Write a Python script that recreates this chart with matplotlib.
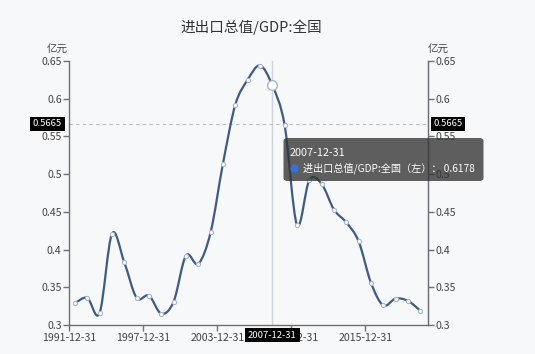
import matplotlib.pyplot as plt
import numpy as np
from matplotlib.path import Path
from matplotlib.patches import PathPatch, FancyBboxPatch
from matplotlib.lines import Line2D

plt.rcParams['font.family'] = ['Noto Sans CJK SC', 'DejaVu Sans']

# data (year-end values)
years = list(range(1991, 2020))
ratio = [0.329, 0.336, 0.316, 0.421, 0.383, 0.336, 0.339, 0.315, 0.331, 0.392,
         0.381, 0.423, 0.514, 0.592, 0.625, 0.644, 0.6178, 0.565, 0.433, 0.492,
         0.487, 0.453, 0.436, 0.411, 0.356, 0.326, 0.335, 0.332, 0.319]
tick_labels = ['1991-12-31', '1997-12-31', '2003-12-31', '2009-12-31', '2015-12-31']
title = '进出口总值/GDP:全国'
unit = '亿元'
hover_year = 2007
hover_value = 0.6178
cursor_value = 0.5665
series_name = '进出口总值/GDP:全国（左）'

bg = '#f7f8fa'
line_c = '#3f5a84'
axis_c = '#6e7079'
text_c = '#444444'

W, H = 535, 354
fig = plt.figure(figsize=(W / 100, H / 100), dpi=100, facecolor=bg)
L, R, T, B = 69.3, 428.3, 61, 325
ax = fig.add_axes([L / W, 1 - B / H, (R - L) / W, (B - T) / H])
ax.set_facecolor(bg)

x0 = years[0] - 0.46
ax.set_xlim(x0, years[-1] + 0.65)
ax.set_ylim(0.3, 0.65)

# smooth line through the points (Catmull-Rom as cubic bezier)
pts = np.column_stack([years, ratio]).astype(float)
verts = [pts[0]]
codes = [Path.MOVETO]
n = len(pts)
for i in range(n - 1):
    p0 = pts[max(i - 1, 0)]
    p1 = pts[i]
    p2 = pts[i + 1]
    p3 = pts[min(i + 2, n - 1)]
    c1 = p1 + (p2 - p0) / 6
    c2 = p2 - (p3 - p1) / 6
    verts += [c1, c2, p2]
    codes += [Path.CURVE4] * 3
ax.add_patch(PathPatch(Path(verts, codes), fill=False, edgecolor=line_c, lw=1.6, zorder=3))
ax.plot(years, ratio, 'o', ms=3.0, mfc='white', mec='#a8b6ca', mew=0.8, zorder=4)

# cursor lines
ax.axvline(hover_year, color='#cfd3da', lw=1, zorder=2)
ax.axhline(cursor_value, color='#bcbcbc', lw=0.8, ls=(0, (3, 3)), zorder=2)
ax.plot([hover_year], [hover_value], 'o', ms=7, mfc='white', mec='#a8b6ca', mew=1, zorder=5)

# axes styling
ax.spines['top'].set_visible(False)
for s in ['left', 'right', 'bottom']:
    ax.spines[s].set_color(axis_c)
    ax.spines[s].set_linewidth(1)
yt = np.arange(0.3, 0.651, 0.05)
ytl = ['0.3', '0.35', '0.4', '0.45', '0.5', '0.55', '0.6', '0.65']
ax.set_yticks(yt)
ax.set_yticklabels(ytl)
ax.set_xticks([x0 + 6 * k for k in range(len(tick_labels))])
ax.set_xticklabels(tick_labels)
ax.tick_params(axis='both', colors=axis_c, labelcolor=text_c, labelsize=7.6,
               length=4, width=1, pad=1.5)
ax2 = ax.twinx()
ax2.set_ylim(0.3, 0.65)
ax2.set_yticks(yt)
ax2.set_yticklabels(ytl)
ax2.tick_params(axis='y', colors=axis_c, labelcolor=text_c, labelsize=7.6,
                length=4, width=1, pad=1.5)
for s in ['top', 'left', 'bottom']:
    ax2.spines[s].set_visible(False)
ax2.spines['right'].set_color(axis_c)

# units and title
fig.text(68 / W, 1 - 50 / H, unit, ha='right', va='center', fontsize=7.6, color=text_c)
fig.text(428 / W, 1 - 50 / H, unit, ha='left', va='center', fontsize=7.6, color=text_c)
fig.text(251 / W, 1 - 27 / H, title, ha='center', va='center', fontsize=10.5, color='#333333')

# axis pointer labels
box = dict(boxstyle='square,pad=0.3', fc='black', ec='none')
yb = ax.transData.transform((0, cursor_value))[1]
fig.text(47.5 / W, yb / H, f'{cursor_value:.4f}', ha='center', va='center',
         fontsize=6.8, color='white', bbox=box, zorder=10)
fig.text(448 / W, yb / H, f'{cursor_value:.4f}', ha='center', va='center',
         fontsize=6.8, color='white', bbox=box, zorder=10)
xb = ax.transData.transform((hover_year, 0))[0]
fig.text(xb / W, 1 - 335 / H, f'{hover_year}-12-31', ha='center', va='center',
         fontsize=6.8, color='white', bbox=box, zorder=10)

# tooltip
tip = FancyBboxPatch((283.5 / W, 1 - 181 / H), 200 / W, 43 / H,
                     boxstyle='round,pad=0,rounding_size=0.008',
                     transform=fig.transFigure, fc='#333333', ec='none', alpha=0.78, zorder=20)
fig.patches.append(tip)
fig.text(290 / W, 1 - 152.5 / H, f'{hover_year}-12-31', ha='left', va='center',
         fontsize=7.8, color='white', zorder=21)
fig.add_artist(Line2D([293.5 / W], [1 - 168 / H], transform=fig.transFigure, marker='o',
                      ms=6, mfc='#3a6fd8', mec='none', zorder=21))
fig.text(303 / W, 1 - 168 / H, f'{series_name}： {hover_value}', ha='left', va='center',
         fontsize=7.3, color='white', zorder=21)

fig.savefig('out.png', dpi=100, facecolor=bg)
